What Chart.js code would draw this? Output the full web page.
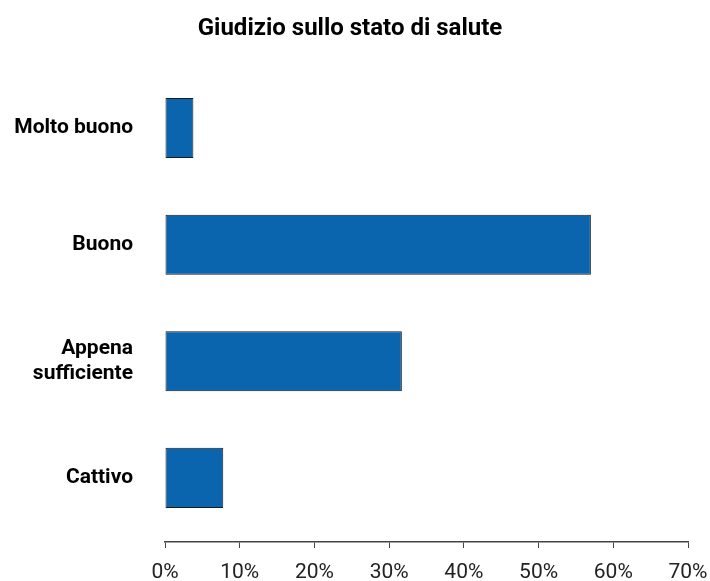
<!DOCTYPE html>
<html>
<head>
<meta charset="utf-8">
<script src="https://cdn.jsdelivr.net/npm/chart.js@4/dist/chart.umd.min.js"></script>
<style>
  html, body { margin: 0; padding: 0; background: #fff; }
  #wrap { width: 710px; height: 581px; position: relative; }
</style>
</head>
<body>
<div id="wrap"><canvas id="c" width="710" height="581"></canvas></div>
<script>
const categories = [["Molto buono"], ["Buono"], ["Appena", "sufficiente"], ["Cattivo"]];
const values = [3.8, 57.0, 31.7, 7.8];
const xTicks = [0, 10, 20, 30, 40, 50, 60, 70];
const title = "Giudizio sullo stato di salute";

const points = values.map((v, i) => ({ x: v, y: i }));

new Chart(document.getElementById('c'), {
  type: 'bar',
  data: {
    datasets: [{
      data: points,
      backgroundColor: '#0b64ae',
      borderColor: '#1a1a1a',
      borderWidth: 1,
      borderSkipped: false,
      barPercentage: 0.515,
      categoryPercentage: 1.0
    }]
  },
  options: {
    indexAxis: 'y',
    responsive: false,
    animation: false,
    layout: { padding: { left: 12, right: 22, top: 12, bottom: 0 } },
    plugins: {
      legend: { display: false },
      tooltip: { enabled: false },
      title: {
        display: true,
        text: title,
        color: '#000',
        font: { family: 'Roboto', size: 24, weight: 'bold' },
        padding: { top: 3, bottom: 26 }
      }
    },
    scales: {
      x: {
        type: 'linear',
        min: 0,
        max: 70,
        afterBuildTicks: s => { s.ticks = xTicks.map(v => ({ value: v })); },
        afterFit: s => { s.height = 39; s.paddingRight = 0; s.paddingLeft = 0; },
        grid: { display: true, drawOnChartArea: false, drawTicks: true, tickLength: 6, color: '#444' },
        border: { display: true, color: '#444', width: 1.5 },
        ticks: {
          color: '#222',
          font: { family: 'Roboto', size: 21 },
          padding: 12,
          maxRotation: 0,
          callback: v => v + '%'
        }
      },
      y: {
        type: 'linear',
        offset: false,
        reverse: true,
        min: -0.5,
        max: 3.55,
        afterBuildTicks: s => { s.ticks = categories.map((_, i) => ({ value: i })); },
        afterFit: s => { s.width = 153; s.paddingTop = 0; s.paddingBottom = 0; },
        grid: { display: false, offset: false },
        border: { display: false },
        ticks: {
          color: '#000',
          font: { family: 'Roboto', size: 21, weight: 'bold' },
          padding: 24,
          callback: v => categories[v]
        }
      }
    }
  }
});
</script>
</body>
</html>
